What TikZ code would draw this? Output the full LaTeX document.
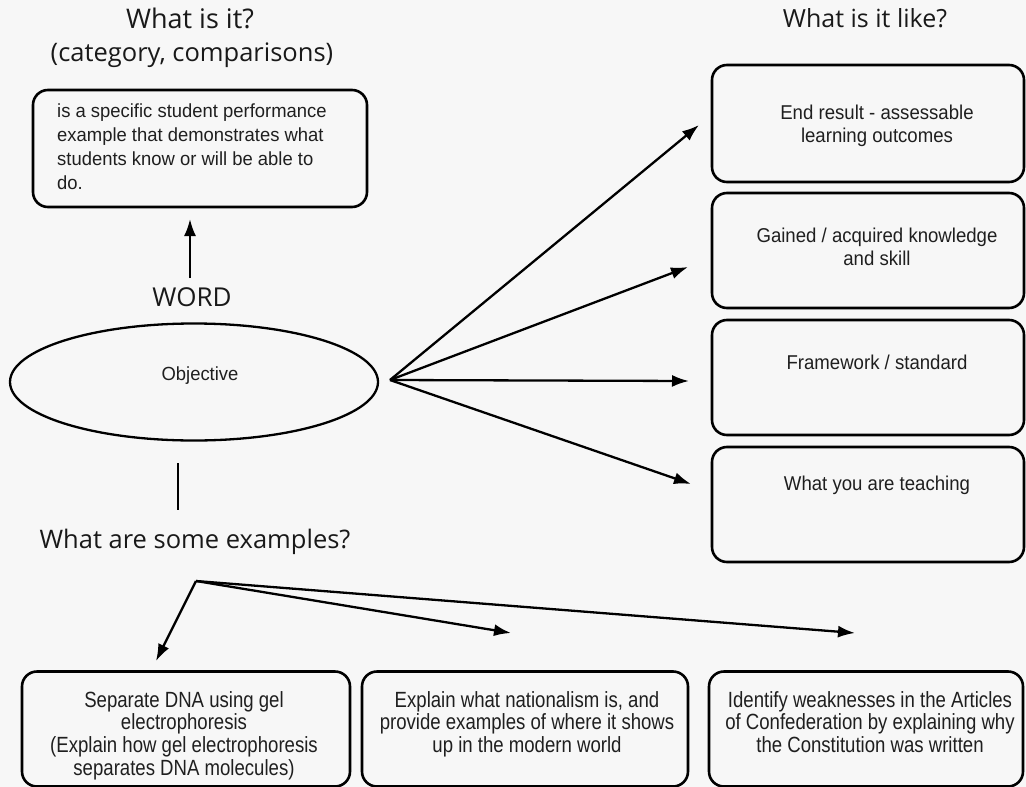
\documentclass[tikz,border=0pt]{standalone}
\usepackage{fontspec}
\setmainfont{Liberation Sans}
\newfontfamily\titlefont{Open Sans}
\newfontfamily\deffont[FakeStretch=0.97]{Liberation Sans}
\newfontfamily\rightfont[FakeStretch=0.93]{Liberation Sans}
\newfontfamily\narrowfont[FakeStretch=0.845]{Liberation Sans}
\usetikzlibrary{arrows.meta,shapes.geometric}
\begin{document}
\begin{tikzpicture}[x=1pt,y=-1pt,
  box/.style={draw, rounded corners=15pt, line width=2.6pt, inner sep=0pt},
  title/.style={font=\titlefont\fontsize{27}{32}\selectfont, text=black!90, inner sep=0pt},
  arr/.style={-{Latex[length=17pt,width=12pt]}, line width=2.3pt},
  plain/.style={line width=2.3pt},
  btxt/.style={font=\deffont\fontsize{19}{24}\selectfont, align=left, text=black!88, inner sep=0pt, anchor=north west},
  rtxt/.style={font=\rightfont\fontsize{20}{23}\selectfont, align=center, anchor=north, text=black!88, inner sep=0pt},
  ltxt/.style={font=\narrowfont\fontsize{22}{22.7}\selectfont, align=center, anchor=north, text=black!88, inner sep=0pt}]
\fill[black!3] (0,0) rectangle (1026,787);
\useasboundingbox (0,0) rectangle (1026,787);

% titles
\node[title] (t1) at (190,18) {What is it?};
\node[title, font=\titlefont\fontsize{25.5}{30}\selectfont] (t2) at (192,55) {(category, comparisons)};
\node[title, font=\titlefont\fontsize{25}{30}\selectfont] (t3) at (865,18) {What is it like?};
\node[title, font=\titlefont\fontsize{25.5}{30}\selectfont] (t4) at (195,542) {What are some examples?};
\node[title, font=\titlefont\fontsize{26}{30}\selectfont] (word) at (192,297) {WORD};

% definition box
\node[box, minimum width=334pt, minimum height=117pt] (def) at (200,148.5) {};
\node[btxt] (deftxt) at (57,103.5) {is a specific student performance\\example that demonstrates what\\students know or will be able to\\do.};

% ellipse
\node[draw, ellipse, line width=2.3pt, minimum width=368pt, minimum height=117pt, inner sep=0pt] (obj) at (194,382) {};
\node[font=\deffont\fontsize{19}{22}\selectfont, text=black!88] (objtxt) at (200,376) {Objective};

% right boxes
\node[box, minimum width=312pt, minimum height=117pt] (r1) at (868,123.5) {};
\node[box, minimum width=312pt, minimum height=115pt] (r2) at (868,250.5) {};
\node[box, minimum width=312pt, minimum height=115pt] (r3) at (868,377.5) {};
\node[box, minimum width=312pt, minimum height=115pt] (r4) at (868,504.5) {};
\node[rtxt] (r1t) at (877,105) {End result - assessable\\learning outcomes};
\node[rtxt] (r2t) at (877,228) {Gained / acquired knowledge\\and skill};
\node[rtxt] (r3t) at (877,355) {Framework / standard};
\node[rtxt] (r4t) at (877,476) {What you are teaching};

% bottom boxes
\node[box, minimum width=328pt, minimum height=115pt] (b1) at (186,729) {};
\node[box, minimum width=326pt, minimum height=115pt] (b2) at (525,729) {};
\node[box, minimum width=314pt, minimum height=115pt] (b3) at (866,729) {};
\node[ltxt] (b1t) at (184,691) {Separate DNA using gel\\electrophoresis\\(Explain how gel electrophoresis\\separates DNA molecules)};
\node[ltxt] (b2t) at (527,691) {Explain what nationalism is, and\\provide examples of where it shows\\up in the modern world};
\node[ltxt] (b3t) at (870,691) {Identify weaknesses in the Articles\\of Confederation by explaining why\\the Constitution was written};

% connectors
\coordinate (wordtop) at (190,278);
\draw[arr] (wordtop) -- (190,219) coordinate (uptip);

\coordinate (hub) at (390,380);
\coordinate (e1) at (699,125);
\coordinate (e2) at (688,267);
\coordinate (e3) at (689,381);
\coordinate (e4) at (691,484);
\draw[arr] (hub) -- (e1);
\draw[arr] (hub) -- (e2);
\draw[arr] (hub) -- (e3);
\draw[arr] (hub) -- (e4);

\coordinate (l1) at (178,463);
\coordinate (l2) at (178,510);
\draw[plain] (l1) -- (l2);

\coordinate (bp) at (196,581);
\coordinate (f1) at (156,661);
\coordinate (f2) at (511,633);
\coordinate (f3) at (855,633);
\draw[arr] (bp) -- (f1);
\draw[arr] (bp) -- (f2);
\draw[arr] (bp) -- (f3);
\end{tikzpicture}
\end{document}
